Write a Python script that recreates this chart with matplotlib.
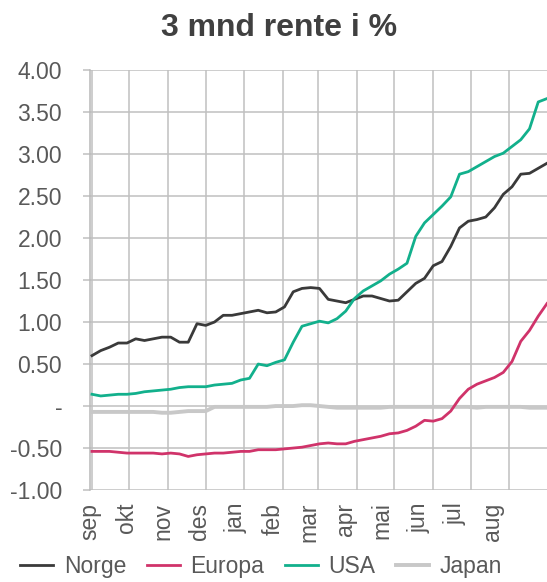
import numpy as np
import pandas as pd
import matplotlib
matplotlib.use("Agg")
import matplotlib.pyplot as plt
import matplotlib.dates as mdates
from matplotlib.ticker import FixedLocator, FuncFormatter

plt.rcParams['font.family'] = ['Liberation Sans', 'DejaVu Sans']

# weekly observations, 1 Sep 2021 - 31 Aug 2022
dates = pd.date_range("2021-09-01", periods=53, freq="7D")

norge = [0.60, 0.66, 0.70, 0.75, 0.75, 0.80, 0.78, 0.80, 0.82, 0.82,
         0.76, 0.76, 0.98, 0.96, 1.00, 1.08, 1.08, 1.10, 1.12, 1.14,
         1.11, 1.12, 1.18, 1.36, 1.40, 1.41, 1.40, 1.27, 1.25, 1.23,
         1.27, 1.31, 1.31, 1.28, 1.25, 1.26, 1.36, 1.46, 1.52, 1.67,
         1.72, 1.90, 2.12, 2.20, 2.22, 2.25, 2.36, 2.52, 2.61, 2.76,
         2.77, 2.83, 2.89]

europa = [-0.54, -0.54, -0.54, -0.55, -0.56, -0.56, -0.56, -0.56, -0.57, -0.56,
          -0.57, -0.60, -0.58, -0.57, -0.56, -0.56, -0.55, -0.54, -0.54, -0.52,
          -0.52, -0.52, -0.51, -0.50, -0.49, -0.47, -0.45, -0.44, -0.45, -0.45,
          -0.42, -0.40, -0.38, -0.36, -0.33, -0.32, -0.29, -0.24, -0.17, -0.18,
          -0.15, -0.06, 0.09, 0.20, 0.26, 0.30, 0.34, 0.40, 0.53, 0.77,
          0.90, 1.07, 1.22]

usa = [0.14, 0.12, 0.13, 0.14, 0.14, 0.15, 0.17, 0.18, 0.19, 0.20,
       0.22, 0.23, 0.23, 0.23, 0.25, 0.26, 0.27, 0.31, 0.33, 0.50,
       0.48, 0.52, 0.55, 0.76, 0.95, 0.98, 1.01, 0.99, 1.04, 1.13,
       1.28, 1.37, 1.43, 1.49, 1.57, 1.63, 1.70, 2.02, 2.18, 2.28,
       2.38, 2.49, 2.76, 2.79, 2.85, 2.91, 2.97, 3.01, 3.09, 3.17,
       3.30, 3.62, 3.66]

japan = [-0.07, -0.07, -0.07, -0.07, -0.07, -0.07, -0.07, -0.07, -0.08, -0.08,
         -0.07, -0.06, -0.06, -0.06, -0.01, -0.01, -0.01, -0.01, -0.01, -0.01,
         -0.01, 0.00, 0.00, 0.00, 0.01, 0.01, 0.00, -0.01, -0.02, -0.02,
         -0.02, -0.02, -0.02, -0.02, -0.01, -0.01, -0.01, -0.01, -0.01, -0.01,
         -0.01, -0.01, -0.01, -0.01, -0.02, -0.01, -0.01, -0.01, -0.01, -0.01,
         -0.02, -0.02, -0.02]

months = ['sep', 'okt', 'nov', 'des', 'jan', 'feb', 'mar', 'apr', 'mai', 'jun', 'jul', 'aug']

txt = '#595959'
grid = '#c0c0c0'

fig = plt.figure(figsize=(5.47, 5.82), dpi=100)
ax = fig.add_axes([0.1645, 0.158, 0.8355, 0.7217])

ax.plot(dates, norge, color='#3a3a3a', lw=2.0, label='Norge', zorder=4)
ax.plot(dates, europa, color='#d0336a', lw=2.0, label='Europa', zorder=4)
ax.plot(dates, usa, color='#12b08c', lw=2.0, label='USA', zorder=4)
ax.plot(dates, japan, color='#c8c8c8', lw=2.8, label='Japan', zorder=3)

ax.set_ylim(-1, 4)
ax.set_xlim(pd.Timestamp("2021-09-01"), pd.Timestamp("2022-08-31"))

ax.yaxis.set_major_locator(FixedLocator(np.arange(-1, 4.01, 0.5)))
ax.yaxis.set_major_formatter(FuncFormatter(lambda v, p: '-' if abs(v) < 1e-9 else f'{v:.2f}'))
ax.tick_params(axis='y', length=5, width=1.1, color=grid, labelsize=16.5, labelcolor=txt, pad=15)

# gridlines at month starts, labels spaced evenly like the original
ax.xaxis.set_major_locator(mdates.MonthLocator())
ax.xaxis.set_major_formatter(plt.NullFormatter())
lab_pos = [mdates.date2num(pd.Timestamp("2021-09-01")) - 1.6 + 29.24 * i for i in range(len(months))]
ax.set_xticks(lab_pos, minor=True)
ax.set_xticklabels(months, minor=True, rotation=90)
ax.tick_params(axis='x', which='both', length=0, labelsize=16.5, labelcolor=txt, pad=9)

ax.grid(True, which='major', color=grid, lw=1.1)
for s in ['top', 'right', 'bottom']:
    ax.spines[s].set_visible(False)
ax.spines['left'].set_color('#b8b8b8')
ax.spines['left'].set_linewidth(1.1)

fig.text(0.511, 0.952, '3 mnd rente i %', ha='center', va='center',
         fontsize=23, fontweight='bold', color='#404040')

fig.legend(loc='center', bbox_to_anchor=(0.477, 0.026), ncol=4, frameon=False,
           fontsize=16.5, labelcolor=txt, handlelength=1.45, handletextpad=0.45,
           columnspacing=0.9, borderpad=0.1)

fig.savefig('out.png', dpi=100)
